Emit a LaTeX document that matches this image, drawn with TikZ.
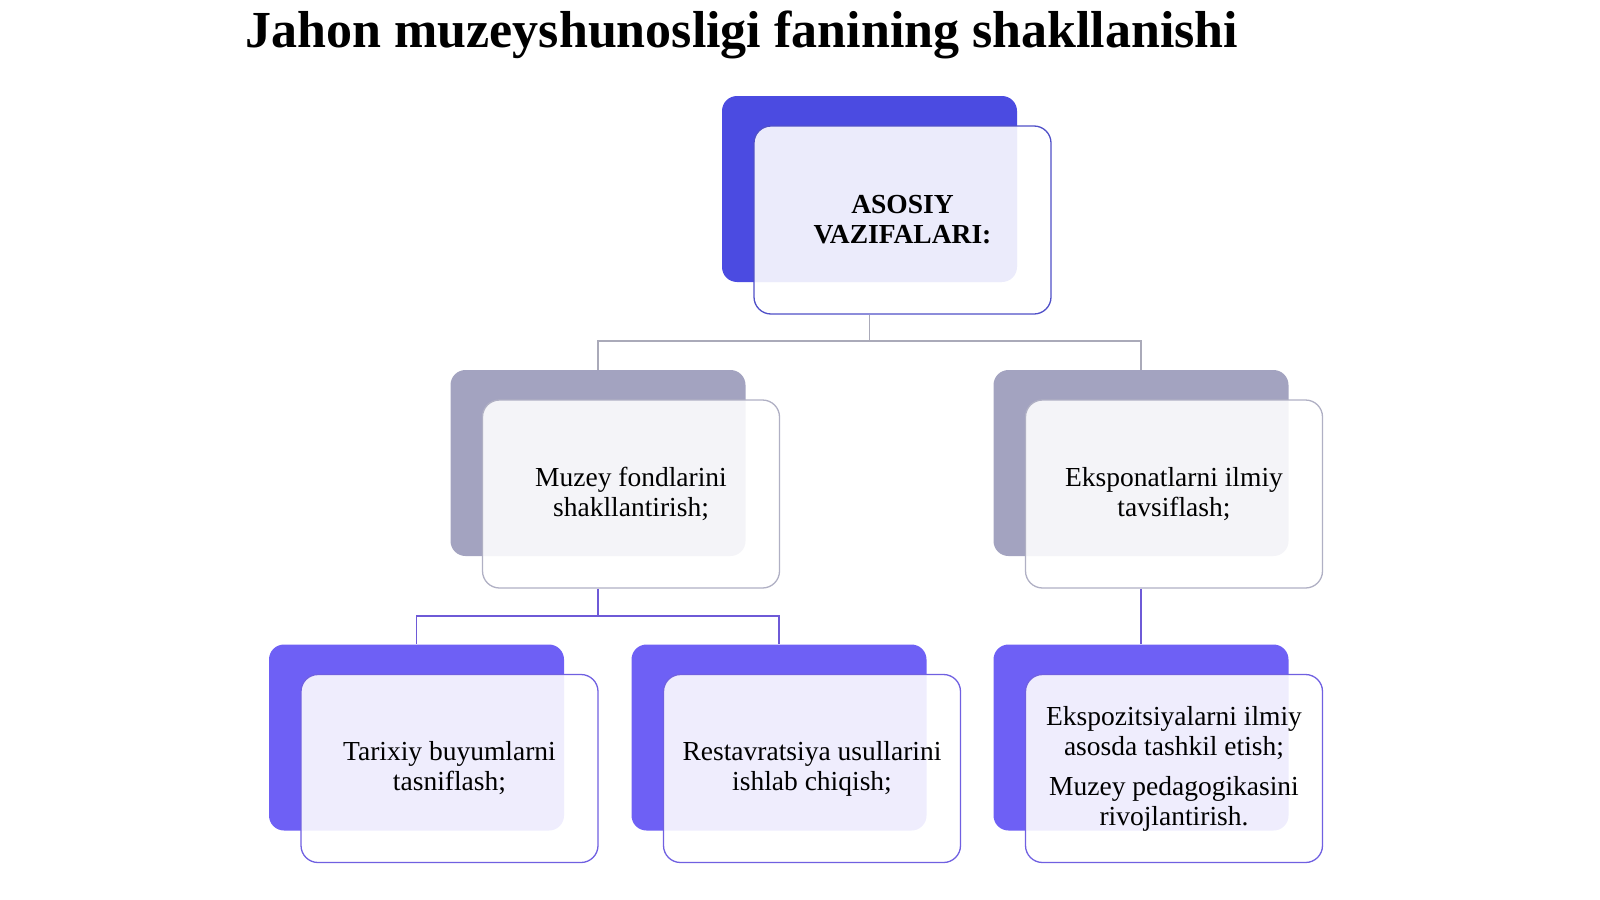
\documentclass[tikz,border=0pt]{standalone}
\usepackage{fontspec}
\setmainfont{Liberation Serif}
\usetikzlibrary{calc}
\definecolor{topback}{RGB}{75,75,225}
\definecolor{topedge}{RGB}{80,80,200}
\definecolor{midback}{RGB}{163,163,192}
\definecolor{midedge}{RGB}{176,176,196}
\definecolor{lowback}{RGB}{110,96,245}
\definecolor{lowedge}{RGB}{112,96,225}
\definecolor{connA}{RGB}{170,170,185}
\definecolor{connB}{RGB}{110,90,215}
\begin{document}
\begin{tikzpicture}[x=1pt,y=-1pt,
  backcard/.style={rectangle, rounded corners=15pt, minimum width=295pt, minimum height=186pt, inner sep=0pt, draw=none},
  frontcard/.style={rectangle, rounded corners=17pt, minimum width=297pt, minimum height=188pt, inner sep=0pt, line width=1.3pt, fill=white, fill opacity=0.89, text opacity=1, align=center, font=\fontsize{27.5}{30}\selectfont},
  conn/.style={line width=1.3pt},
]
\useasboundingbox (0,0) rectangle (1600,899);
\node[font=\fontsize{52}{60}\selectfont\bfseries, anchor=base] (title) at (742,48) {Jahon muzeyshunosligi fanining shakllanishi};

% connectors
\coordinate (j1) at (869.5,341);
\coordinate (j2) at (598,616);
% top card
\node[backcard, fill=topback] (tb) at (869.5,189) {};
\node[frontcard, draw=topedge, font=\fontsize{27.5}{30}\selectfont\bfseries] (tf) at (902.5,220) {ASOSIY\\VAZIFALARI:};
% middle cards
\node[backcard, fill=midback] (mlb) at (598,463) {};
\node[frontcard, draw=midedge] (mlf) at (631,494) {Muzey fondlarini\\shakllantirish;};
\node[backcard, fill=midback] (mrb) at (1141,463) {};
\node[frontcard, draw=midedge] (mrf) at (1174,494) {Eksponatlarni ilmiy\\tavsiflash;};
% bottom cards
\node[backcard, fill=lowback] (b1b) at (416.5,737.5) {};
\node[frontcard, draw=lowedge] (b1f) at (449.5,768.5) {Tarixiy buyumlarni\\tasniflash;};
\node[backcard, fill=lowback] (b2b) at (779,737.5) {};
\node[frontcard, draw=lowedge] (b2f) at (812,768.5) {Restavratsiya usullarini\\ishlab chiqish;};
\node[backcard, fill=lowback] (b3b) at (1141,737.5) {};
\node[frontcard, draw=lowedge] (b3f) at (1174,768.5) {Ekspozitsiyalarni ilmiy\\asosda tashkil etish;\\[10pt]Muzey pedagogikasini\\rivojlantirish.};

\draw[conn, draw=connA] (tb.south |- tf.south) -- (j1) -| (mlb.north);
\draw[conn, draw=connA] (j1) -| (mrb.north);
\draw[conn, draw=connB] (mlb.south |- mlf.south) -- (j2) -| (b1b.north);
\draw[conn, draw=connB] (j2) -| (b2b.north);
\draw[conn, draw=connB] (mrb.south |- mrf.south) -- (b3b.north);
\end{tikzpicture}
\end{document}
